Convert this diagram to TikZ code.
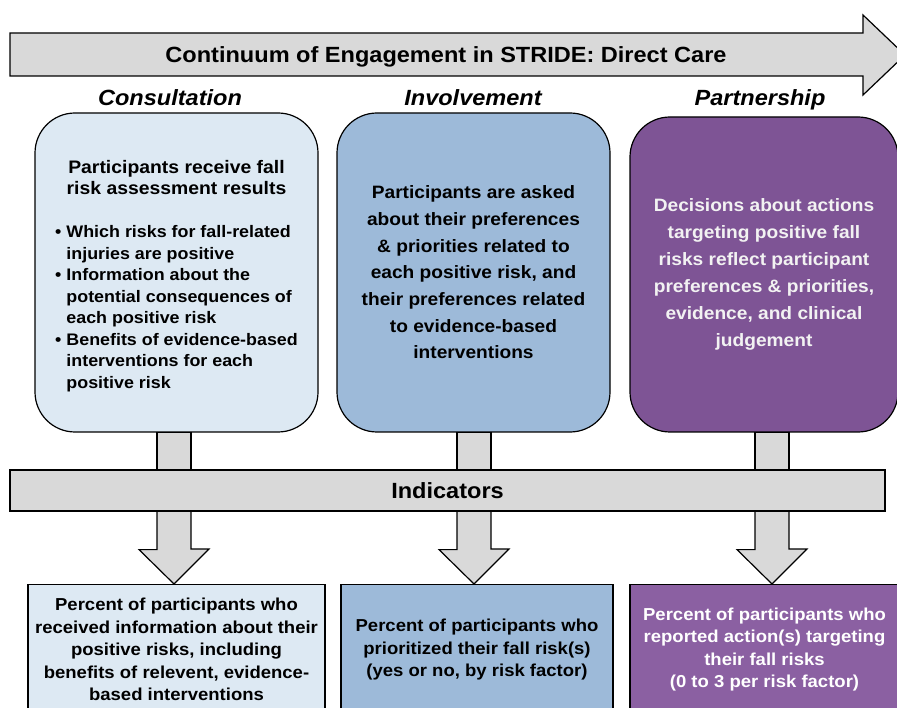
\documentclass[tikz,border=0pt]{standalone}
\usepackage{fontspec}
\setmainfont{Liberation Sans}[FakeStretch=1.07]
\usepackage{xcolor}
\usetikzlibrary{positioning}
\usetikzlibrary{calc}
\usetikzlibrary{backgrounds}

\definecolor{paleblue}{HTML}{DDE9F3}
\definecolor{midblue}{HTML}{9DBAD9}
\definecolor{darkpurple}{HTML}{7E5495}
\definecolor{lightpurple}{HTML}{8B60A2}
\definecolor{arrowgray}{HTML}{D9D9D9}
\definecolor{softwhite}{HTML}{F2F2F2}

\tikzset{
	grayshape/.style={draw=black, line width=1.2pt, fill=arrowgray},
	stagebox/.style={draw=black, line width=1.2pt, rounded corners=40pt, inner sep=0pt, minimum height=319, align=center},
	resultbox/.style={draw=black, line width=1.2pt, inner sep=0pt, anchor=north, minimum height=130, align=center, font=\fontsize{17.3}{22.5}\selectfont\bfseries},
	headtext/.style={anchor=base, font=\fontsize{22}{26}\selectfont\bfseries\itshape},
	bartext/.style={font=\fontsize{22}{26}\selectfont\bfseries}
}

\begin{document}
\begin{tikzpicture}[x=1pt,y=-1pt]
	\useasboundingbox (0,0) rectangle (897,708);
	\clip (0,0) rectangle (897,708);
	
	% continuum arrow
	\draw[grayshape] (10,33) -- (863,33) -- (863,15) -- (905,55) -- (863,95) -- (863,76) -- (10,76) -- cycle;
	\node[bartext, anchor=base] (title) at (446,63) {Continuum of Engagement in STRIDE: Direct Care};
	
	% stages
	\node[headtext] (consult) at (170,106) {Consultation};
	\node[headtext] (involve) at (473,106) {Involvement};
	\node[headtext] (partner) at (760,106) {Partnership};
	
	\node[stagebox, fill=paleblue, minimum width=283, font=\fontsize{16.7}{21.5}\selectfont\bfseries] (cbox) at (176.5,272.5) {%
		\raisebox{-4pt}[\height][\depth]{\begin{tabular}{@{}l@{\hspace{5pt}}l@{}}
			\multicolumn{2}{@{}c@{}}{\fontsize{18.1}{21.5}\selectfont Participants receive fall}\\
			\multicolumn{2}{@{}c@{}}{\fontsize{18.1}{21.5}\selectfont risk assessment results}\\[21.5pt]
			\textbullet & Which risks for fall-related\\
			& injuries are positive\\
			\textbullet & Information about the\\
			& potential consequences of\\
			& each positive risk\\
			\textbullet & Benefits of evidence-based\\
			& interventions for each\\
			& positive risk
	\end{tabular}}};
	\node[stagebox, fill=midblue, minimum width=273, font=\fontsize{17.9}{26.7}\selectfont\bfseries] (ibox) at (473.5,272.5) {Participants are asked\\ about their preferences\\ \& priorities related to\\ each positive risk, and\\ their preferences related\\ to evidence-based\\ interventions};
	\node[stagebox, fill=darkpurple, text=softwhite, minimum width=268, minimum height=315, font=\fontsize{17.9}{27}\selectfont\bfseries] (pbox) at (764,274.5) {Decisions about actions\\ targeting positive fall\\ risks reflect participant\\ preferences \& priorities,\\ evidence, and clinical\\ judgement};
	
	% indicators
	\node[grayshape, bartext, minimum width=875, minimum height=41, inner sep=0pt] (ind) at (447.5,490.5) {Indicators};
	
	\node[resultbox, fill=paleblue, minimum width=297] (cres) at (176.5,584) {Percent of participants who\\ received information about their\\ positive risks, including\\ benefits of relevent, evidence-\\ based interventions};
	\node[resultbox, fill=midblue, minimum width=272] (ires) at (477,584) {Percent of participants who\\ prioritized their fall risk(s)\\ (yes or no, by risk factor)};
	\node[resultbox, fill=lightpurple, text=white, minimum width=269] (pres) at (764.5,584) {Percent of participants who\\ reported action(s) targeting\\ their fall risks\\ (0 to 3 per risk factor)};
	
	% gray connectors
	\begin{scope}[on background layer]
		\foreach \b/\r/\dx in {cbox/cres/-2.5, ibox/ires/0.5, pbox/pres/8}{
			\draw[grayshape] ($(\b.south)+(\dx-17,0)$) rectangle ($(\b.south |- ind.north)+(\dx+17,0)$);
			\draw[grayshape] ($(\b.south |- ind.south)+(\dx-17,0)$) -- ++(0,38) -- ++(-18,0) -- ($(\b.south |- \r.north)+(\dx,0)$) -- ++(35,-35) -- ++(-18,0) -- ++(0,-38);
		}
	\end{scope}
\end{tikzpicture}
\end{document}
